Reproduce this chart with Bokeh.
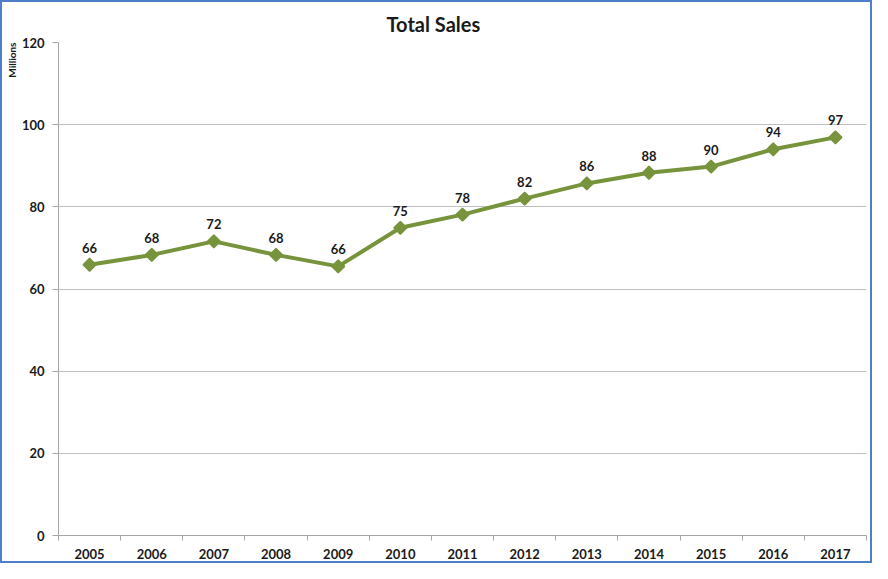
from bokeh.plotting import figure
from bokeh.models import ColumnDataSource, LabelSet, FixedTicker, Range1d, Title
from bokeh.core.properties import value
from bokeh.embed import file_html
from bokeh.resources import INLINE
import math

years = ["2005", "2006", "2007", "2008", "2009", "2010", "2011",
         "2012", "2013", "2014", "2015", "2016", "2017"]
sales = [65.9, 68.3, 71.6, 68.3, 65.5, 74.9, 78.1, 82.0, 85.7, 88.3, 89.8, 94.0, 96.9]
labels = ["66", "68", "72", "68", "66", "75", "78", "82", "86", "88", "90", "94", "97"]
y_ticks = [0, 20, 40, 60, 80, 100, 120]
title_text = "Total Sales"
y_label = "Millions"

FONT = "Lato"
GREEN = "#77933C"
GRID = "#BFBFBF"
AXIS = "#A6A6A6"
TEXT = "#1A1A1A"

xs = list(range(len(years)))
src = ColumnDataSource(dict(x=xs, y=sales, label=labels))

p = figure(width=868, height=559, output_backend="svg", toolbar_location=None,
           x_range=Range1d(-0.5, len(years) - 0.5), y_range=Range1d(y_ticks[0], y_ticks[-1]),
           min_border_left=55, min_border_right=4, min_border_top=38, min_border_bottom=26)
p.margin = (2, 2, 2, 2)
p.outline_line_color = None
p.background_fill_color = "white"
p.border_fill_color = "white"
p.styles = {"outline": "2px solid #4F7EC9"}

p.title.text = title_text
p.title.align = "left"
p.title.text_font = FONT
p.title.text_font_size = "20px"
p.title.text_font_style = "bold"
p.title.text_color = TEXT
p.title.text_line_height = 1.0
p.title.offset = 328
p.title.standoff = 14

p.add_layout(Title(text=y_label, align="right", text_font=FONT, text_font_size="10px",
                   text_font_style="bold", text_color=TEXT, standoff=2), "left")

# axes
p.xaxis.ticker = FixedTicker(ticks=xs, minor_ticks=[i - 0.5 for i in range(len(years) + 1)])
p.xaxis.major_label_overrides = {i: y for i, y in enumerate(years)}
p.xaxis.major_tick_line_color = None
p.xaxis.major_tick_out = 0
p.xaxis.major_tick_in = 0
p.xaxis.minor_tick_line_color = AXIS
p.xaxis.minor_tick_out = 5
p.xaxis.minor_tick_in = 0
p.xaxis.major_label_standoff = 8
p.yaxis.ticker = FixedTicker(ticks=y_ticks)
p.yaxis.minor_tick_line_color = None
p.yaxis.major_tick_out = 6
p.yaxis.major_tick_in = 0
p.yaxis.major_tick_line_color = AXIS
p.yaxis.major_label_standoff = 8
for ax in (p.xaxis, p.yaxis):
    ax.axis_line_color = AXIS
    ax.major_label_text_font = FONT
    ax.major_label_text_font_size = "13px"
    ax.major_label_text_font_style = "bold"
    ax.major_label_text_color = TEXT

p.xgrid.grid_line_color = None
p.ygrid.grid_line_color = GRID
p.ygrid.grid_line_width = 1

p.line("x", "y", source=src, line_color=GREEN, line_width=4)
p.scatter("x", "y", source=src, marker="square", size=9, angle=math.pi / 4,
          fill_color=GREEN, line_color=GREEN, line_width=1.5)

p.add_layout(LabelSet(x="x", y="y", text="label", source=src, y_offset=12,
                      text_align="center", text_baseline="bottom",
                      text_font=value(FONT), text_font_size=value("13px"),
                      text_font_style=value("bold"), text_color=TEXT))

open("out.html", "w").write(file_html(p, INLINE))
